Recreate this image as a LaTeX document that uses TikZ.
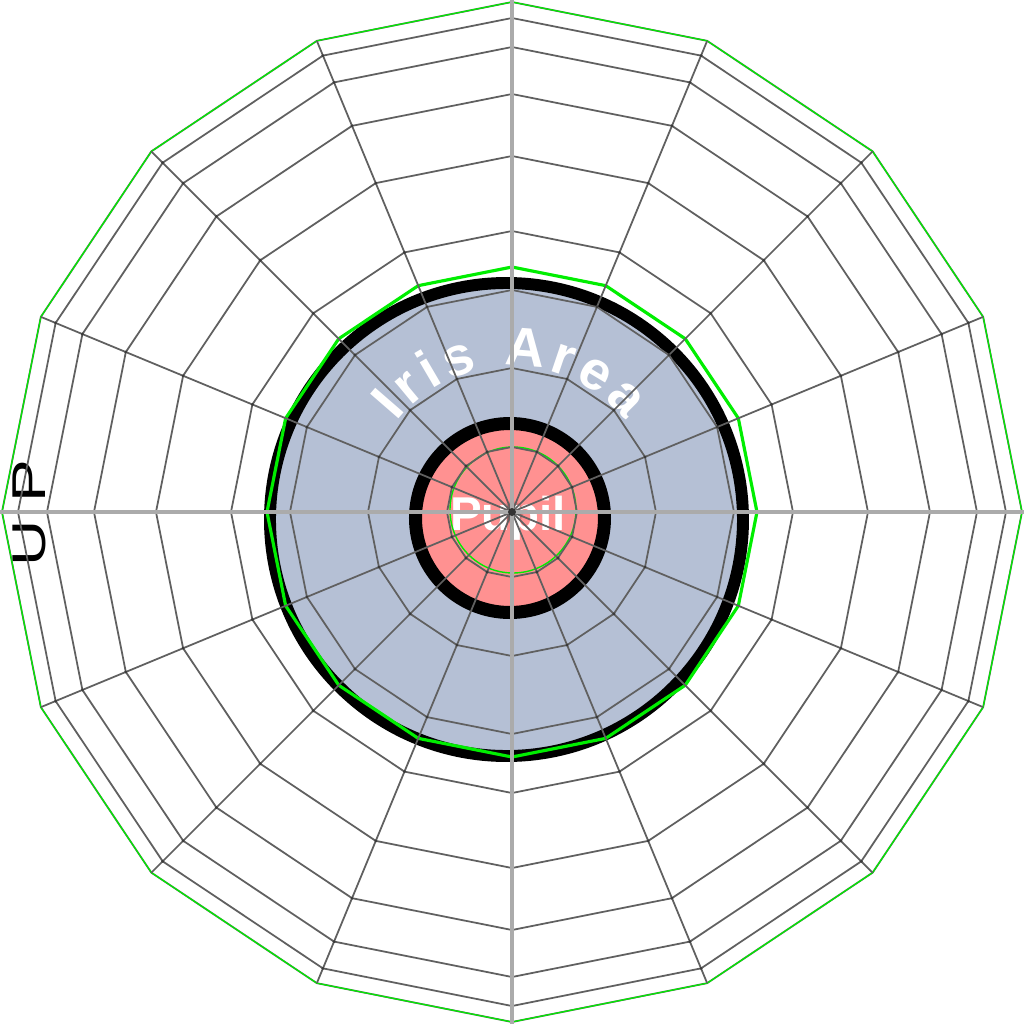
\documentclass[tikz,border=0pt]{standalone}
\usepackage{fontspec}
\setmainfont{Liberation Sans}
\usepackage{graphicx}
\usetikzlibrary{decorations.text}
\definecolor{irisblue}{HTML}{B5C0D5}
\definecolor{pupilpink}{HTML}{FF9191}
\definecolor{gridgray}{HTML}{606060}
\definecolor{axisgray}{HTML}{ABABAB}
\definecolor{limegreen}{HTML}{00EE00}

\tikzset{
  ringline/.style={draw=gridgray, line width=0.5pt, line join=miter},
  spokeline/.style={draw=gridgray, line width=0.5pt},
  axisline/.style={draw=axisgray, line width=1.2pt},
  greenring/.style={draw=limegreen, line join=miter},
  gridknot/.style={fill=gridgray!60!black},
  labeltext/.style={text=white, font=\bfseries\fontsize{13.5}{14}\selectfont},
}

\begin{document}
\begin{tikzpicture}
  % canvas, one unit = 100 px of the chart
  \useasboundingbox (-5.12,-5.12) rectangle (5.12,5.12);
  \fill[white] (-5.12,-5.12) rectangle (5.12,5.12);

  % iris and pupil discs
  \fill[irisblue] (-0.055,-0.075) circle (2.365);
  \fill[pupilpink] (-0.02,-0.06) circle (0.945);
  \shade[inner color=black, outer color=pupilpink] (0,0) circle (0.12);

  % labels
  \path[decorate, decoration={text along path, text align=fit to path,
      text={|\color{white}\bfseries\fontsize{15.5}{16}\selectfont|Iris Area}}]
    (142:1.46) arc (142:39:1.46);
  \node[labeltext] (pupil) at (-0.04,-0.06) {Pupil};
  \node[rotate=90, font=\fontsize{13.5}{14}\selectfont] (up) at (-4.83,-0.01)
    {\scalebox{1.35}[1]{U\kern3.6pt P}};

  % boundaries
  \draw[black, line width=3.4pt] (-0.055,-0.075) circle (2.365);
  \draw[black, line width=3.7pt] (-0.02,-0.06) circle (0.945);
  \draw[limegreen, line width=0.4pt] (0.01,0.02) circle (0.63);

  % rings
  \foreach \r in {0.65,1.44,2.22,2.81,3.56,4.18,4.65,4.94,5.1}
    \draw[ringline] (0:\r) \foreach \a in {1,...,15}{ -- (\a*22.5:\r)} -- cycle;

  % green polygons
  \draw[greenring, line width=0.9pt] (0:2.45) \foreach \a in {1,...,15}{ -- (\a*22.5:2.45)} -- cycle;
  \draw[greenring, line width=0.35pt] (0:5.1) \foreach \a in {1,...,15}{ -- (\a*22.5:5.1)} -- cycle;

  % spokes
  \foreach \a in {0,22.5,...,337.5}
    \draw[spokeline] (0,0) -- (\a:5.1);
  \foreach \r in {0.65,1.44,2.22,2.81,3.56,4.18,4.65,4.94}
    \foreach \a in {0,22.5,...,337.5}
      \fill[gridknot] (\a:\r) circle (0.016);

  % axes
  \draw[axisline] (-5.12,0) -- (5.12,0);
  \draw[axisline] (0,-5.12) -- (0,5.12);
  \fill[black!80] (0,0) circle (0.04);
\end{tikzpicture}
\end{document}
